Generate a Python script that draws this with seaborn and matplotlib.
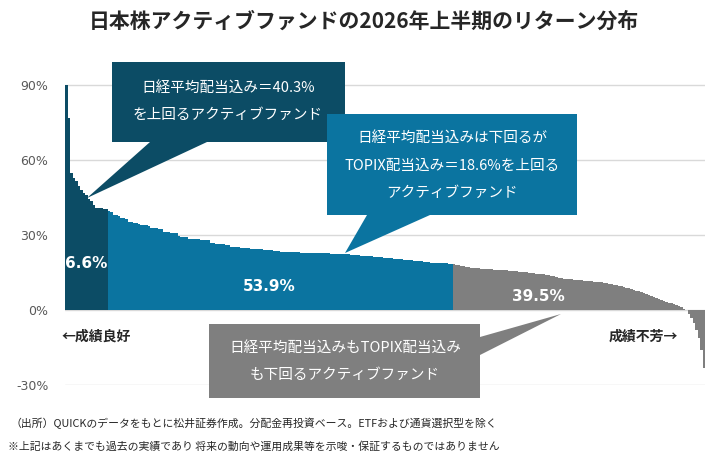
import pandas as pd
import seaborn as sns
import matplotlib.pyplot as plt
from matplotlib.patches import Polygon

# sorted fund returns (%), best -> worst
top_funds = [90.0, 77.0, 55.0, 53.0, 51.5, 49.5, 48.0, 47.0, 46.0, 44.5,
             43.5, 42.0, 41.0, 40.8, 40.7, 40.6, 40.5]
mid_funds = [39.5, 39.3, 38.2, 38.0, 37.8, 37.0, 36.8, 36.6, 35.3, 35.1,
             35.0, 34.9, 34.3, 34.1, 34.0, 33.9, 33.8, 33.0, 32.8, 32.7,
             32.6, 32.5, 31.4, 31.2, 31.1, 31.0, 30.9, 30.8, 29.6, 29.4,
             29.3, 29.2, 28.6, 28.5, 28.4, 28.3, 28.3, 28.2, 28.1, 28.0,
             27.9, 26.8, 26.7, 26.6, 26.5, 26.4, 26.3, 26.2, 26.1, 25.4,
             25.3, 25.2, 25.1, 25.0, 24.9, 24.8, 24.7, 24.5, 24.4, 24.4,
             24.3, 24.3, 24.2, 24.1, 24.0, 23.9, 23.7, 23.6, 23.5, 23.4,
             23.4, 23.3, 23.3, 23.2, 23.2, 23.1, 23.1, 23.0, 23.0, 23.0,
             22.9, 22.9, 22.9, 22.8, 22.8, 22.8, 22.7, 22.7, 22.7, 22.6,
             22.6, 22.6, 22.5, 22.5, 22.5, 22.4, 22.3, 22.2, 22.1, 22.0,
             21.9, 21.8, 21.7, 21.7, 21.6, 21.5, 21.4, 21.3, 21.2, 21.1,
             21.0, 20.9, 20.8, 20.7, 20.6, 20.5, 20.4, 20.3, 20.2, 20.1,
             20.0, 19.9, 19.8, 19.7, 19.6, 19.5, 19.4, 19.3, 19.1, 19.0,
             18.9, 18.9, 18.8, 18.8, 18.7, 18.7, 18.6, 18.6]
low_funds = [18.4, 18.2, 18.0, 17.8, 17.6, 17.4, 17.2, 17.0, 16.9, 16.8,
             16.7, 16.6, 16.5, 16.4, 16.4, 16.3, 16.2, 16.2, 16.1, 16.0,
             16.0, 15.9, 15.8, 15.7, 15.6, 15.5, 15.4, 15.3, 15.2, 15.1,
             15.0, 14.9, 14.8, 14.6, 14.5, 14.4, 14.3, 14.2, 14.0, 13.8,
             13.5, 13.1, 12.8, 12.7, 12.6, 12.5, 12.4, 12.3, 12.2, 12.1,
             12.0, 11.9, 11.8, 11.7, 11.6, 11.5, 11.4, 11.4, 11.3, 11.2,
             11.0, 10.8, 10.6, 10.4, 10.2, 10.0, 9.7, 9.5, 9.2, 9.0,
             8.7, 8.4, 8.1, 7.8, 7.5, 7.2, 6.8, 6.4, 6.0, 5.6,
             5.2, 4.7, 4.4, 4.1, 3.7, 3.4, 3.0, 2.7, 2.4, 2.0,
             1.6, 1.1, 0.6, 0.1, -1.5, -3.0, -5.0, -8.0, -11.0, -16.0,
             -23.0]
group_share = ['6.6%', '53.9%', '39.5%']
y_ticks = [-30, 0, 30, 60, 90]

c_dark, c_blue, c_gray = '#0c4c65', '#0b74a0', '#7f7f7f'

returns = top_funds + mid_funds + low_funds
groups = (['top'] * len(top_funds) + ['mid'] * len(mid_funds)
          + ['low'] * len(low_funds))
df = pd.DataFrame({'idx': range(len(returns)), 'ret': returns, 'group': groups})

sns.set_style('white')
plt.rcParams['font.family'] = ['Noto Sans CJK JP', 'DejaVu Sans']

W, H = 710, 454
fig = plt.figure(figsize=(W / 100, H / 100), dpi=100)
ax = fig.add_axes([65 / W, (H - 385) / H, 640 / W, 305 / H])

sns.barplot(data=df, x='idx', y='ret', hue='group', dodge=False, width=1,
            palette={'top': c_dark, 'mid': c_blue, 'low': c_gray},
            saturation=1, legend=False, ax=ax, zorder=2)
for p in ax.patches:
    p.set_linewidth(0)
    p.set_antialiased(False)

ax.set_xlim(-0.5, len(returns) - 0.5)
ax.set_ylim(-30, 92)
ax.set_yticks(y_ticks)
ax.set_yticklabels([f'{v}%' for v in y_ticks], color='#595959', fontsize=9,
                   family='DejaVu Sans')
ax.tick_params(axis='y', length=0, pad=12)
ax.set_xticks([])
ax.set_xlabel('')
ax.set_ylabel('')
for v in y_ticks:
    ax.axhline(v, color='#d9d9d9', lw=1, zorder=0)
sns.despine(ax=ax, left=True, bottom=True)

# share labels inside the bars
n1, n2 = len(top_funds), len(mid_funds)
lab_kw = dict(color='white', fontsize=11, fontweight='bold', ha='center',
              va='center', family='DejaVu Sans', zorder=5)
ax.text(n1 / 2 - 0.5, 18.5, group_share[0], **lab_kw)
ax.text(n1 + n2 * 0.465, 9.5, group_share[1], **lab_kw)
ax.text(n1 + n2 + 34, 5.3, group_share[2], **lab_kw)

# overlay in pixel coordinates for callouts and texts
ov = fig.add_axes([0, 0, 1, 1], facecolor='none')
ov.set_xlim(0, W)
ov.set_ylim(H, 0)
ov.axis('off')

ov.text(364, 21, '日本株アクティブファンドの2026年上半期のリターン分布',
        ha='center', va='center', fontsize=15, fontweight='bold')

# dark callout
ov.add_patch(Polygon([(112, 62), (345, 62), (345, 142), (207, 142), (87, 198),
                      (150, 142), (112, 142)], closed=True, color=c_dark, lw=0))
ov.text(228, 88, '日経平均配当込み＝40.3%', color='white', fontsize=10.5,
        ha='center', va='center')
ov.text(228, 115, 'を上回るアクティブファンド', color='white', fontsize=10.5,
        ha='center', va='center')

# blue callout
ov.add_patch(Polygon([(327, 114), (577, 114), (577, 215), (430, 215), (345, 253),
                      (367, 215), (327, 215)], closed=True, color=c_blue, lw=0))
ov.text(452, 138, '日経平均配当込みは下回るが', color='white', fontsize=10.5,
        ha='center', va='center')
ov.text(452, 166, 'TOPIX配当込み＝18.6%を上回る', color='white', fontsize=10.5,
        ha='center', va='center')
ov.text(452, 193, 'アクティブファンド', color='white', fontsize=10.5,
        ha='center', va='center')

# gray callout
ov.add_patch(Polygon([(209, 324), (480, 324), (480, 337), (561, 314), (480, 355),
                      (480, 398), (209, 398)], closed=True, color=c_gray, lw=0))
ov.text(345, 348, '日経平均配当込みもTOPIX配当込み', color='white', fontsize=10.5,
        ha='center', va='center')
ov.text(345, 375, 'も下回るアクティブファンド', color='white', fontsize=10.5,
        ha='center', va='center')

ov.text(62, 337, '←成績良好', fontsize=10, fontweight='bold', va='center')
ov.text(678, 337, '成績不芳→', fontsize=10, fontweight='bold', va='center',
        ha='right')

ov.text(10, 423, '（出所）QUICKのデータをもとに松井証券作成。分配金再投資ベース。ETFおよび通貨選択型を除く',
        fontsize=7.8, va='center', color='#262626')
ov.text(8, 447, '※上記はあくまでも過去の実績であり 将来の動向や運用成果等を示唆・保証するものではありません',
        fontsize=7.8, va='center', color='#262626')

fig.savefig('out.png', dpi=100)
